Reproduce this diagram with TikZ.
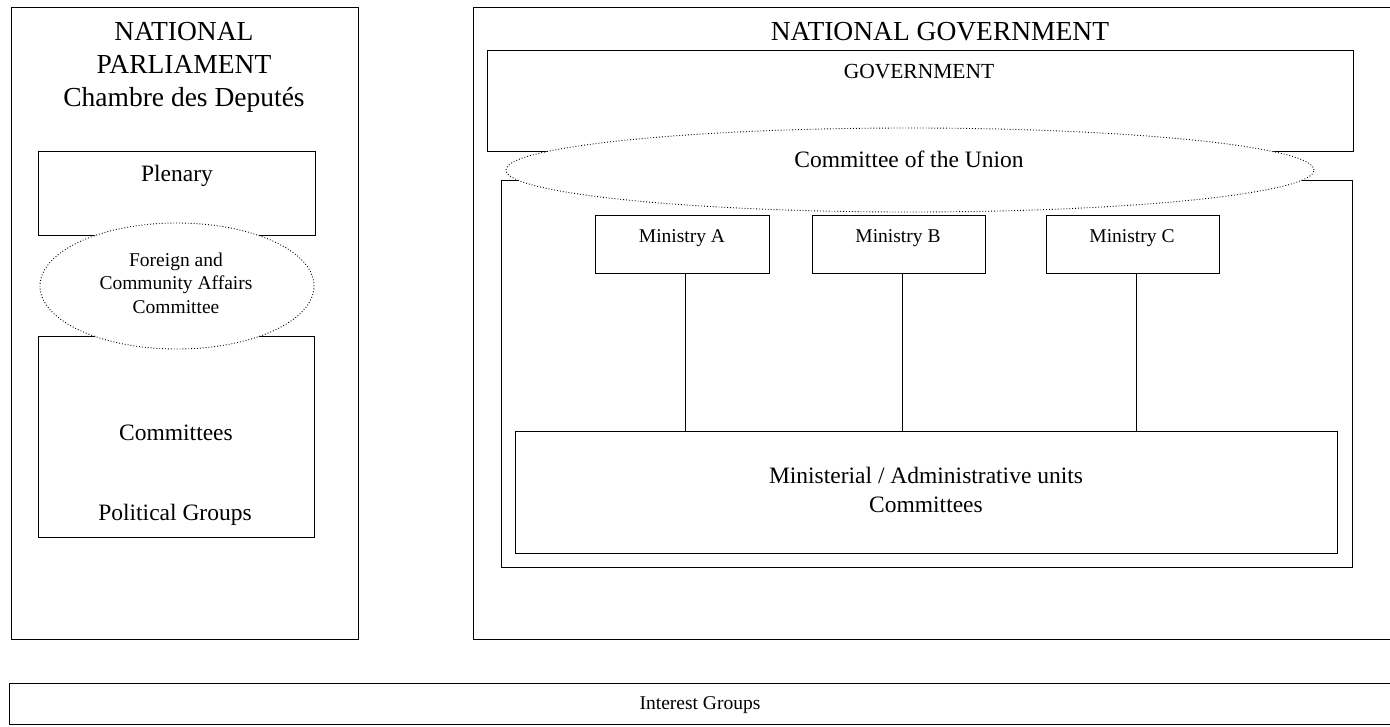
\documentclass[tikz,border=0pt]{standalone}
\usepackage{fontspec}
\setmainfont{Liberation Serif}
\usetikzlibrary{shapes.geometric,calc}
\begin{document}
\begin{tikzpicture}[x=1pt,y=-1pt,
  box/.style={draw, line width=1.2pt, rectangle, inner sep=0pt, anchor=north west},
  oval/.style={draw, ellipse, dotted, line width=0.9pt, fill=white, inner sep=0pt},
  link/.style={draw, line width=1.2pt},
  txt/.style={inner sep=0pt, align=center},
  fT/.style={font=\fontsize{27.5}{33}\selectfont},
  fB/.style={font=\fontsize{23.5}{29}\selectfont},
  fG/.style={font=\fontsize{21.5}{26}\selectfont},
  fS/.style={font=\fontsize{19.5}{23.5}\selectfont}]
\useasboundingbox (0,0) rectangle (1390,726);
% outer boxes
\node[box, minimum width=347pt, minimum height=632pt] (parl) at (11,7) {};
\node[box, minimum width=925pt, minimum height=632pt] (govout) at (473,7) {};
\node[box, minimum width=1390pt, minimum height=41pt] (interest) at (9,683) {};
% parliament inner boxes
\node[box, minimum width=277pt, minimum height=84pt] (plenary) at (38,151) {};
\node[box, minimum width=276pt, minimum height=201pt] (comm) at (38,336) {};
% government inner boxes
\node[box, minimum width=866pt, minimum height=101pt] (gov) at (487,50) {};
\node[box, minimum width=851pt, minimum height=387pt] (inner) at (501,180) {};
\node[box, minimum width=174pt, minimum height=58pt] (minA) at (595,215) {};
\node[box, minimum width=173pt, minimum height=58pt] (minB) at (812,215) {};
\node[box, minimum width=173pt, minimum height=58pt] (minC) at (1046,215) {};
\node[box, minimum width=822pt, minimum height=122pt] (units) at (515,431) {};
% connectors
\draw[link] ($(minA.south)+(3,0)$) -- ($(minA.south |- units.north)+(3,0)$);
\draw[link] ($(minB.south)+(3,0)$) -- ($(minB.south |- units.north)+(3,0)$);
\draw[link] ($(minC.south)+(3,0)$) -- ($(minC.south |- units.north)+(3,0)$);
% ellipses
\node[oval, minimum width=274pt, minimum height=126pt] (facc) at (177,286) {};
\node[oval, minimum width=808pt, minimum height=84pt] (cou) at (910,170) {};
% texts
\node[txt, fT] (tparl) at (184,67) {NATIONAL\\PARLIAMENT\\Chambre des Deputés};
\node[txt, fB] (tplen) at (177,176) {Plenary};
\node[txt, fS] (tfacc) at (176,283) {Foreign and\\Community Affairs\\Committee};
\node[txt, fB] (tcomm) at (176,433) {Committees};
\node[txt, fB] (tpol) at (175,515) {Political Groups};
\node[txt, fT, anchor=base] (tgovout) at (940,40) {NATIONAL GOVERNMENT};
\node[txt, fG, anchor=base] (tgov) at (919,78) {GOVERNMENT};
\node[txt, fB, anchor=base] (tcou) at (909,167) {Committee of the Union};
\node[txt, fS] (tminA) at (682,238) {Ministry A};
\node[txt, fS] (tminB) at (898,238) {Ministry B};
\node[txt, fS] (tminC) at (1132,238) {Ministry C};
\node[txt, fB] (tunits) at (926,490) {Ministerial / Administrative units\\Committees};
\node[txt, fS] (tint) at (700,705) {Interest Groups};
\end{tikzpicture}
\end{document}
